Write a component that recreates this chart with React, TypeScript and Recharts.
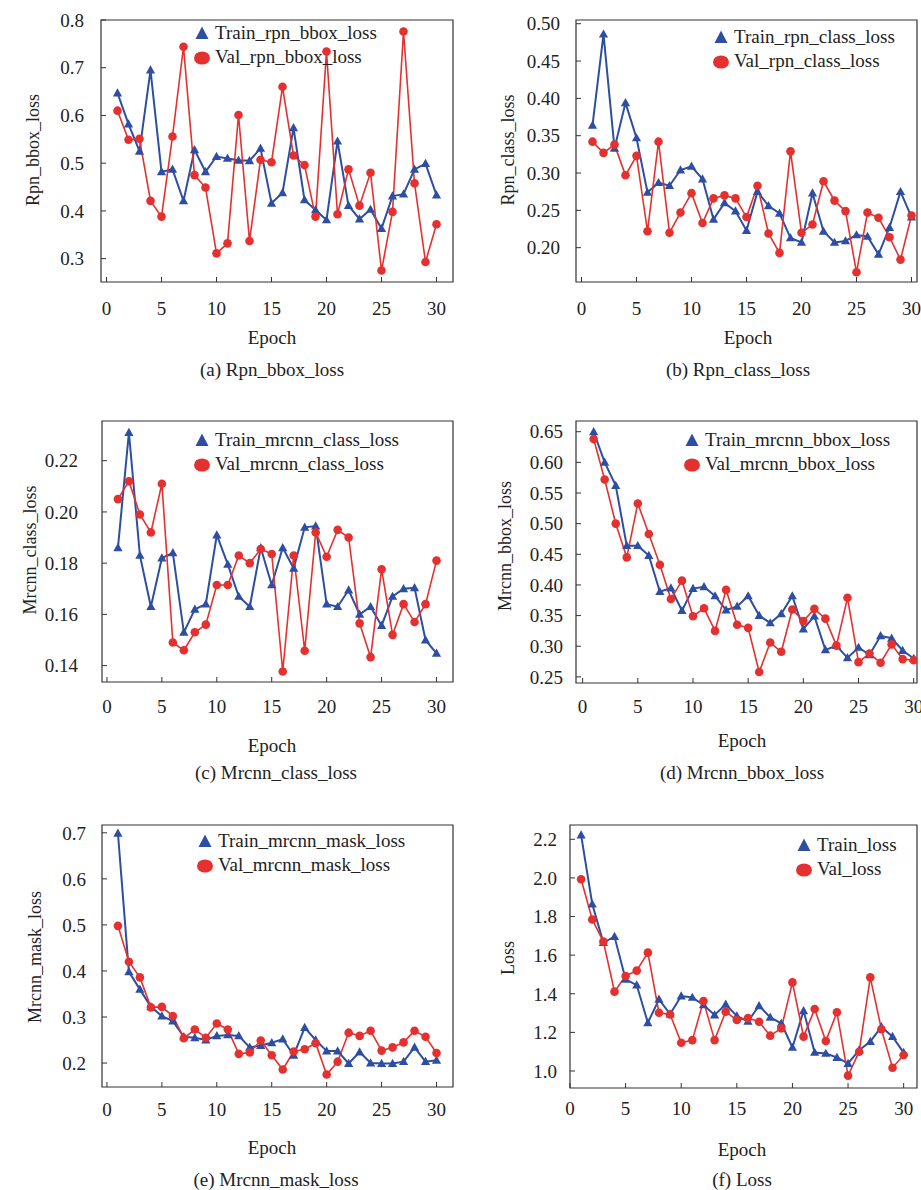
import React from 'react';
import { LineChart, Line, XAxis, YAxis, Legend, ReferenceArea } from 'recharts';

// epochs shared by every panel
const epochs = [1, 2, 3, 4, 5, 6, 7, 8, 9, 10, 11, 12, 13, 14, 15, 16, 17, 18, 19, 20, 21, 22, 23, 24, 25, 26, 27, 28, 29, 30];
const epochTicks = [0, 5, 10, 15, 20, 25, 30];

// (a) rpn bbox
const trainRpnBbox = [0.647, 0.582, 0.525, 0.695, 0.482, 0.487, 0.421, 0.528, 0.482, 0.514, 0.51, 0.506, 0.505, 0.531, 0.416, 0.438, 0.574, 0.423, 0.402, 0.381, 0.546, 0.411, 0.383, 0.403, 0.363, 0.431, 0.435, 0.487, 0.499, 0.433];
const valRpnBbox = [0.61, 0.549, 0.551, 0.421, 0.388, 0.556, 0.744, 0.475, 0.449, 0.311, 0.332, 0.601, 0.337, 0.507, 0.502, 0.66, 0.516, 0.496, 0.388, 0.734, 0.393, 0.487, 0.411, 0.48, 0.275, 0.398, 0.776, 0.458, 0.293, 0.372];
const rpnBboxTicks = [0.3, 0.4, 0.5, 0.6, 0.7, 0.8];

// (b) rpn class
const trainRpnClass = [0.364, 0.486, 0.333, 0.394, 0.347, 0.274, 0.287, 0.283, 0.304, 0.309, 0.292, 0.238, 0.26, 0.249, 0.223, 0.275, 0.256, 0.246, 0.213, 0.207, 0.273, 0.222, 0.207, 0.209, 0.217, 0.215, 0.191, 0.227, 0.275, 0.241];
const valRpnClass = [0.342, 0.327, 0.338, 0.297, 0.323, 0.222, 0.342, 0.22, 0.247, 0.273, 0.233, 0.266, 0.27, 0.266, 0.241, 0.283, 0.219, 0.193, 0.329, 0.22, 0.231, 0.289, 0.263, 0.249, 0.167, 0.247, 0.24, 0.214, 0.184, 0.243];
const rpnClassTicks = [0.2, 0.25, 0.3, 0.35, 0.4, 0.45, 0.5];

// (c) mrcnn class
const trainMrcnnClass = [0.186, 0.231, 0.183, 0.163, 0.182, 0.184, 0.153, 0.162, 0.164, 0.191, 0.1795, 0.167, 0.163, 0.186, 0.1715, 0.186, 0.178, 0.194, 0.1945, 0.164, 0.163, 0.1695, 0.16, 0.163, 0.1556, 0.167, 0.17, 0.1704, 0.15, 0.1448];
const valMrcnnClass = [0.205, 0.212, 0.199, 0.192, 0.211, 0.149, 0.146, 0.153, 0.156, 0.1715, 0.1715, 0.183, 0.18, 0.1855, 0.1836, 0.1377, 0.183, 0.1458, 0.192, 0.1825, 0.193, 0.19, 0.1565, 0.1433, 0.1776, 0.152, 0.164, 0.157, 0.164, 0.181];
const mrcnnClassTicks = [0.14, 0.16, 0.18, 0.2, 0.22];

// (d) mrcnn bbox
const trainMrcnnBbox = [0.65, 0.6, 0.562, 0.464, 0.464, 0.448, 0.389, 0.395, 0.358, 0.394, 0.397, 0.382, 0.359, 0.365, 0.382, 0.35, 0.338, 0.353, 0.382, 0.328, 0.349, 0.294, 0.301, 0.281, 0.298, 0.286, 0.317, 0.313, 0.293, 0.28];
const valMrcnnBbox = [0.638, 0.572, 0.5, 0.445, 0.533, 0.483, 0.433, 0.377, 0.407, 0.349, 0.362, 0.325, 0.392, 0.335, 0.33, 0.258, 0.306, 0.291, 0.36, 0.341, 0.361, 0.345, 0.301, 0.379, 0.274, 0.288, 0.273, 0.303, 0.279, 0.277];
const mrcnnBboxTicks = [0.25, 0.3, 0.35, 0.4, 0.45, 0.5, 0.55, 0.6, 0.65];

// (e) mrcnn mask
const trainMrcnnMask = [0.699, 0.398, 0.36, 0.322, 0.302, 0.291, 0.257, 0.255, 0.25, 0.259, 0.261, 0.259, 0.234, 0.238, 0.244, 0.252, 0.217, 0.277, 0.25, 0.226, 0.226, 0.199, 0.224, 0.2, 0.199, 0.199, 0.203, 0.234, 0.203, 0.206];
const valMrcnnMask = [0.498, 0.42, 0.386, 0.321, 0.322, 0.302, 0.254, 0.273, 0.255, 0.286, 0.273, 0.22, 0.223, 0.249, 0.217, 0.186, 0.225, 0.23, 0.243, 0.175, 0.203, 0.266, 0.259, 0.27, 0.227, 0.234, 0.245, 0.27, 0.257, 0.222];
const mrcnnMaskTicks = [0.2, 0.3, 0.4, 0.5, 0.6, 0.7];

// (f) total loss
const trainLoss = [2.222, 1.865, 1.665, 1.696, 1.475, 1.445, 1.25, 1.371, 1.295, 1.388, 1.381, 1.342, 1.29, 1.345, 1.285, 1.257, 1.338, 1.278, 1.247, 1.122, 1.312, 1.096, 1.091, 1.07, 1.039, 1.108, 1.152, 1.229, 1.178, 1.095];
const valLoss = [1.993, 1.785, 1.67, 1.411, 1.492, 1.52, 1.613, 1.302, 1.293, 1.146, 1.16, 1.362, 1.16, 1.307, 1.264, 1.274, 1.255, 1.183, 1.221, 1.459, 1.178, 1.321, 1.155, 1.304, 0.976, 1.1, 1.485, 1.216, 1.017, 1.083];
const lossTicks = [1.0, 1.2, 1.4, 1.6, 1.8, 2.0, 2.2];

const FONT = '"Liberation Serif", "Times New Roman", serif';
const BLUE = '#2d4ea2';
const RED = '#e4312f';
const INK = '#222';

const PAD_L = 80;
const PAD_T = 10;
const PAD_R = 10;
const PAD_B = 40;

const panels = [
  {
    key: 'a', train: trainRpnBbox, val: valRpnBbox, yTicks: rpnBboxTicks, digits: 1,
    trainName: 'Train_rpn_bbox_loss', valName: 'Val_rpn_bbox_loss', yLabel: 'Rpn_bbox_loss', caption: '(a) Rpn_bbox_loss',
    box: { x: 101, y: 20, w: 352, h: 262 }, xDomain: [-0.5, 31.5], yDomain: [0.251, 0.8],
    yGap: 22, xGap: 25, legend: { x: 202, y: 33 }, yLabelPos: { x: 33, y: 150 },
    epochPos: { x: 272, y: 338 }, captionPos: { x: 272, y: 370 },
  },
  {
    key: 'b', train: trainRpnClass, val: valRpnClass, yTicks: rpnClassTicks, digits: 2,
    trainName: 'Train_rpn_class_loss', valName: 'Val_rpn_class_loss', yLabel: 'Rpn_class_loss', caption: '(b) Rpn_class_loss',
    box: { x: 576, y: 20, w: 341, h: 262 }, xDomain: [-0.5, 30.5], yDomain: [0.154, 0.505],
    yGap: 21, xGap: 25, legend: { x: 721, y: 37 }, yLabelPos: { x: 508, y: 150 },
    epochPos: { x: 748, y: 338 }, captionPos: { x: 738, y: 370 },
  },
  {
    key: 'c', train: trainMrcnnClass, val: valMrcnnClass, yTicks: mrcnnClassTicks, digits: 2,
    trainName: 'Train_mrcnn_class_loss', valName: 'Val_mrcnn_class_loss', yLabel: 'Mrcnn_class_loss', caption: '(c) Mrcnn_class_loss',
    box: { x: 102, y: 421, w: 351, h: 261 }, xDomain: [-0.45, 31.5], yDomain: [0.1336, 0.2355],
    yGap: 29, xGap: 23, legend: { x: 202, y: 440 }, yLabelPos: { x: 30, y: 550 },
    epochPos: { x: 272, y: 746 }, captionPos: { x: 276, y: 773 },
  },
  {
    key: 'd', train: trainMrcnnBbox, val: valMrcnnBbox, yTicks: mrcnnBboxTicks, digits: 2,
    trainName: 'Train_mrcnn_bbox_loss', valName: 'Val_mrcnn_bbox_loss', yLabel: 'Mrcnn_bbox_loss', caption: '(d) Mrcnn_bbox_loss',
    box: { x: 576, y: 421, w: 341, h: 262 }, xDomain: [-0.6, 30.3], yDomain: [0.24, 0.6675],
    yGap: 18, xGap: 22, legend: { x: 692, y: 440 }, yLabelPos: { x: 505, y: 546 },
    epochPos: { x: 742, y: 741 }, captionPos: { x: 742, y: 773 },
  },
  {
    key: 'e', train: trainMrcnnMask, val: valMrcnnMask, yTicks: mrcnnMaskTicks, digits: 1,
    trainName: 'Train_mrcnn_mask_loss', valName: 'Val_mrcnn_mask_loss', yLabel: 'Mrcnn_mask_loss', caption: '(e) Mrcnn_mask_loss',
    box: { x: 102, y: 825, w: 351, h: 262 }, xDomain: [-0.45, 31.5], yDomain: [0.148, 0.717],
    yGap: 21, xGap: 21, legend: { x: 205, y: 841 }, yLabelPos: { x: 35, y: 957 },
    epochPos: { x: 272, y: 1148 }, captionPos: { x: 276, y: 1180 },
  },
  {
    key: 'f', train: trainLoss, val: valLoss, yTicks: lossTicks, digits: 1,
    trainName: 'Train_loss', valName: 'Val_loss', yLabel: 'Loss', caption: '(f) Loss',
    box: { x: 570, y: 825, w: 347, h: 263 }, xDomain: [0, 31.2], yDomain: [0.912, 2.274],
    yGap: 18, xGap: 19, legend: { x: 804, y: 845 }, yLabelPos: { x: 508, y: 958 },
    epochPos: { x: 742, y: 1150 }, captionPos: { x: 742, y: 1180 },
  },
];

const TriangleDot = (props: any) => {
  const { cx, cy, index } = props;
  if (cx == null || cy == null) return null;
  return (
    <polygon
      key={`tri-${index}`}
      points={`${cx},${cy - 4.8} ${cx - 4.6},${cy + 3.4} ${cx + 4.6},${cy + 3.4}`}
      fill={BLUE}
    />
  );
};

const CircleDot = (props: any) => {
  const { cx, cy, index } = props;
  if (cx == null || cy == null) return null;
  return <circle key={`cir-${index}`} cx={cx} cy={cy} r={4.3} fill={RED} />;
};

const LegendBox = (props: any) => {
  const items = props.payload || [];
  return (
    <div style={{ fontFamily: FONT, fontSize: 19, color: INK, lineHeight: '24.5px' }}>
      {items.map((it: any) => (
        <div key={it.value} style={{ display: 'flex', alignItems: 'center', height: 24.5, whiteSpace: 'nowrap' }}>
          <svg width={16} height={16} style={{ marginRight: 5 }}>
            {it.type === 'triangle' ? (
              <polygon points="8,1.5 1.5,14 14.5,14" fill={BLUE} />
            ) : (
              <ellipse cx={8} cy={8} rx={8} ry={6.6} fill={RED} />
            )}
          </svg>
          <span>{it.value}</span>
        </div>
      ))}
    </div>
  );
};

function Panel({ p }: { p: (typeof panels)[number] }) {
  const rows = epochs.map((e, i) => ({ epoch: e, train: p.train[i], val: p.val[i] }));
  const left = p.box.x - PAD_L;
  const top = p.box.y - PAD_T;
  const tickStyle = { fill: INK, fontSize: 19, fontFamily: FONT };
  const textBase: React.CSSProperties = {
    position: 'absolute', fontFamily: FONT, color: INK, whiteSpace: 'nowrap',
    transform: 'translate(-50%, -50%)',
  };
  return (
    <>
      <div style={{ position: 'absolute', left, top }}>
        <LineChart
          width={p.box.w + PAD_L + PAD_R}
          height={p.box.h + PAD_T + PAD_B}
          data={rows}
          margin={{ top: PAD_T, right: PAD_R, left: 0, bottom: 0 }}
        >
          <XAxis
            dataKey="epoch"
            type="number"
            domain={p.xDomain}
            ticks={epochTicks}
            allowDataOverflow
            interval={0}
            height={PAD_B}
            axisLine={false}
            tickSize={-5}
            tickMargin={p.xGap}
            stroke="#333"
            tick={tickStyle}
          />
          <YAxis
            type="number"
            domain={p.yDomain}
            ticks={p.yTicks}
            allowDataOverflow
            interval={0}
            width={PAD_L}
            axisLine={false}
            tickSize={-5}
            tickMargin={p.yGap}
            stroke="#333"
            tick={tickStyle}
            tickFormatter={(v: number) => v.toFixed(p.digits)}
          />
          <ReferenceArea
            x1={p.xDomain[0]}
            x2={p.xDomain[1]}
            y1={p.yDomain[0]}
            y2={p.yDomain[1]}
            fill="none"
            stroke="#333"
            strokeWidth={1.2}
          />
          <Line
            dataKey="train"
            name={p.trainName}
            legendType="triangle"
            stroke={BLUE}
            strokeWidth={2}
            dot={TriangleDot}
            activeDot={false}
            isAnimationActive={false}
          />
          <Line
            dataKey="val"
            name={p.valName}
            legendType="circle"
            stroke={RED}
            strokeWidth={1.6}
            dot={CircleDot}
            activeDot={false}
            isAnimationActive={false}
          />
          <Legend
            layout="vertical"
            align="center"
            verticalAlign="middle"
            content={LegendBox}
            wrapperStyle={{
              position: 'absolute',
              left: p.legend.x - 8 - left,
              top: p.legend.y - 12.25 - top,
              width: 'auto',
              height: 'auto',
              margin: 0,
            }}
          />
        </LineChart>
      </div>
      <div style={{ ...textBase, left: p.yLabelPos.x, top: p.yLabelPos.y, fontSize: 18, transform: 'translate(-50%, -50%) rotate(-90deg)' }}>
        {p.yLabel}
      </div>
      <div style={{ ...textBase, left: p.epochPos.x, top: p.epochPos.y, fontSize: 19 }}>Epoch</div>
      <div style={{ ...textBase, left: p.captionPos.x, top: p.captionPos.y, fontSize: 19 }}>{p.caption}</div>
    </>
  );
}

export default function App() {
  return (
    <div
      style={{
        position: 'absolute', left: 0, top: 0, width: 921, height: 1190,
        background: '#fff', overflow: 'hidden', fontFamily: FONT,
      }}
    >
      {panels.map((p) => (
        <Panel key={p.key} p={p} />
      ))}
    </div>
  );
}
